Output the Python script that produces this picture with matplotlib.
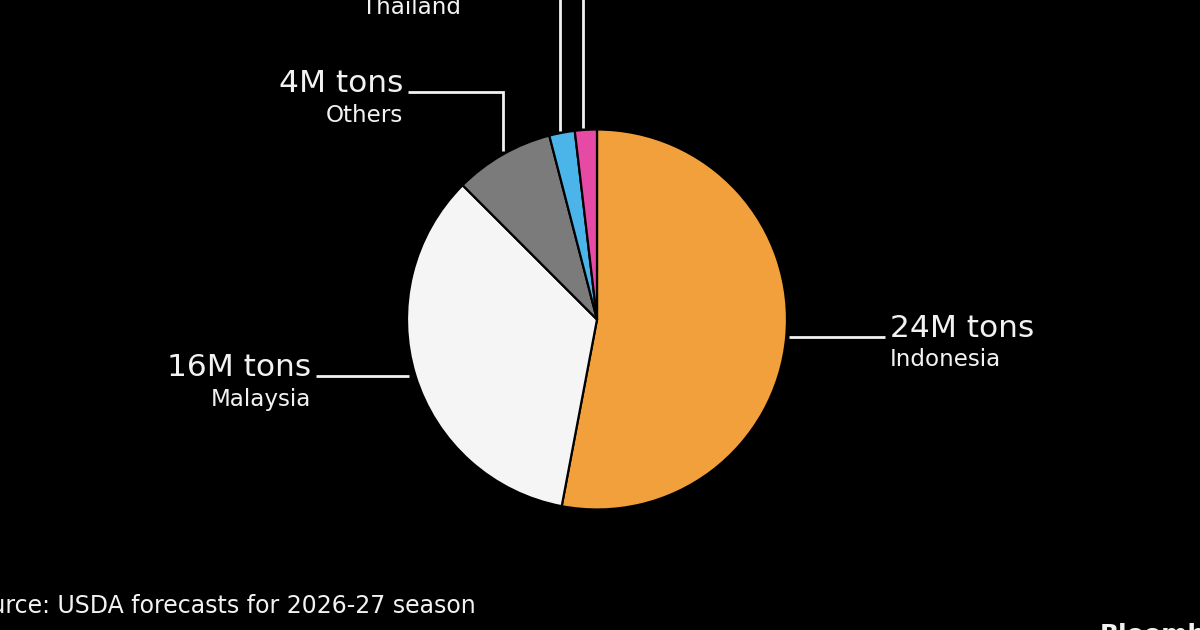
import numpy as np
import matplotlib
matplotlib.use("Agg")
import matplotlib.pyplot as plt

# ---- data ----
countries = ["Indonesia", "Malaysia", "Others", "Thailand", "Guatemala"]
values = [24.4, 15.9, 3.9, 1.0, 0.86]          # million tons
value_labels = ["24M tons", "16M tons", "4M tons", "1M tons", "1M tons"]
colors = ["#F1A03C", "#F5F5F5", "#7B7B7B", "#4BB4E8", "#E64AA4"]
source = "Source: USDA forecasts for 2026-27 season"

W, H = 1200, 630
fig = plt.figure(figsize=(12, 6.3), dpi=100, facecolor="black")
ax = fig.add_axes([0, 0, 1, 1])
ax.set_facecolor("black")

cx, cy, R = 597, H - 319.5, 190
wedges, _ = ax.pie(values, colors=colors, startangle=90, counterclock=False,
                   center=(cx, cy), radius=R, frame=True,
                   wedgeprops=dict(edgecolor="black", linewidth=1.6))
ax.set_xlim(0, W)
ax.set_ylim(0, H)
ax.set_aspect("equal")
ax.axis("off")

txt = "#F2F2F2"
big = 22.5
small = 16.6
lw = 2.0
fam = "DejaVu Sans"

def mid(w):
    a = np.deg2rad((w.theta1 + w.theta2) / 2)
    return cx + R * np.cos(a), cy + R * np.sin(a)

# Indonesia (right)
x0, y0 = mid(wedges[0])
ax.plot([x0 + 3, 885], [y0, y0], color=txt, lw=lw, solid_capstyle="butt")
ax.text(890, y0, value_labels[0], color=txt, fontsize=big, ha="left", va="baseline", family=fam)
ax.text(890, y0 - 29, countries[0], color=txt, fontsize=small, ha="left", va="baseline", family=fam)

# Malaysia (left)
x1, y1 = mid(wedges[1])
ax.plot([x1 - 6, 316], [y1, y1], color=txt, lw=lw, solid_capstyle="butt")
ax.text(311, y1, value_labels[1], color=txt, fontsize=big, ha="right", va="baseline", family=fam)
ax.text(311, y1 - 30, countries[1], color=txt, fontsize=small, ha="right", va="baseline", family=fam)

# Others (upper left, elbow)
x2, y2 = mid(wedges[2])
ky = H - 92
ax.plot([x2, x2, 408], [y2 + 4, ky, ky], color=txt, lw=lw, solid_capstyle="butt",
        solid_joinstyle="miter")
ax.text(403, ky, value_labels[2], color=txt, fontsize=big, ha="right", va="baseline", family=fam)
ax.text(403, ky - 30, countries[2], color=txt, fontsize=small, ha="right", va="baseline", family=fam)

# Thailand (top, leader runs off the canvas)
x3, y3 = mid(wedges[3])
ty = H + 16
ax.plot([x3 - 2, x3 - 2, 466], [y3 + 2, ty, ty], color=txt, lw=lw, solid_capstyle="butt",
        clip_on=False)
ax.text(461, ty, value_labels[3], color=txt, fontsize=big, ha="right", va="baseline", family=fam)
ax.text(461, H - 14, countries[3], color=txt, fontsize=small, ha="right", va="baseline", family=fam)

# Fifth slice (label above the canvas)
x4, y4 = mid(wedges[4])
ax.plot([x4 - 3, x4 - 3], [y4 + 2, H + 60], color=txt, lw=lw, solid_capstyle="butt")

# Source and brand
ax.text(476, H - 613, source, color=txt, fontsize=17, ha="right", va="baseline", family=fam)
ax.text(1100, H - 623, "Bloomberg", color=txt, fontsize=18, fontweight="bold",
        ha="left", va="top", family=fam)

fig.savefig("out.png", dpi=100, facecolor="black")
